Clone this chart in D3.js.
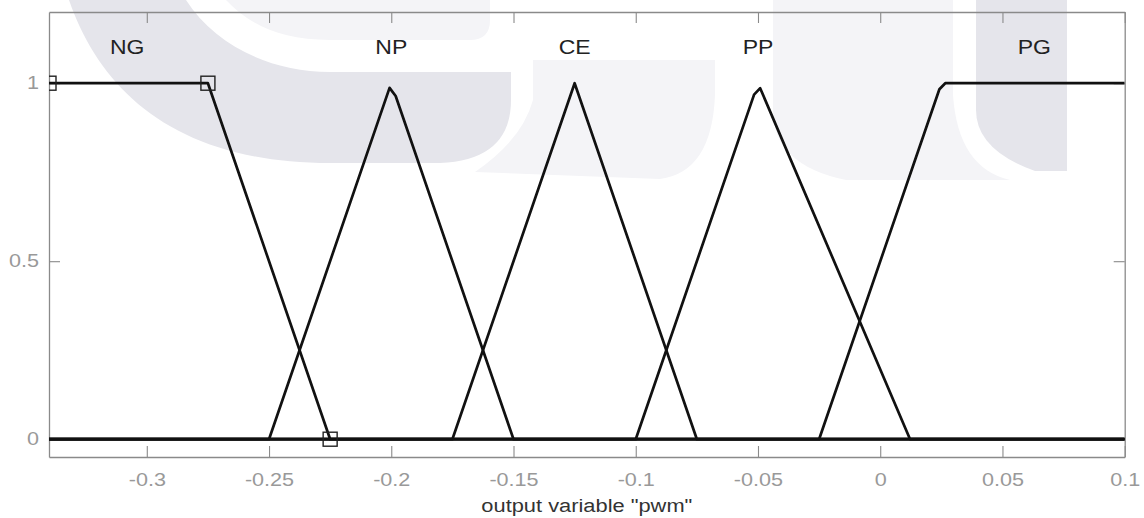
<!DOCTYPE html>
<html>
<head>
<meta charset="utf-8">
<script src="https://cdn.jsdelivr.net/npm/d3@7"></script>
<style>
  body { margin: 0; background: #fff; }
  svg { display: block; font-family: 'Liberation Sans', Arial, sans-serif; }
</style>
</head>
<body>
<div id="mf-graph"></div>
<script>
// membership function names and where their labels sit
const mfNames = ['NG', 'NP', 'CE', 'PP', 'PG']
const labelX = [-0.308, -0.2, -0.125, -0.05, 0.063]
const labelY = 1.083

// plotted vertices of each membership function (as sampled by the fuzzy toolbox)
const ngX = [-0.34, -0.275, -0.225, 0.1]
const ngY = [1, 1, 0, 0]
const npX = [-0.34, -0.25, -0.2007, -0.1982, -0.15, 0.1]
const npY = [0, 0, 0.987, 0.964, 0, 0]
const ceX = [-0.34, -0.175, -0.125, -0.075, 0.1]
const ceY = [0, 0, 1, 0, 0]
const ppX = [-0.34, -0.1, -0.0516, -0.0491, 0.0122, 0.1]
const ppY = [0, 0, 0.968, 0.986, 0, 0]
const pgX = [-0.34, -0.025, 0.0242, 0.0266, 0.1]
const pgY = [0, 0, 0.983, 1, 1]

// selected MF handles
const markerX = [-0.34, -0.275, -0.225]
const markerY = [1, 1, 0]

const xTicks = [-0.3, -0.25, -0.2, -0.15, -0.1, -0.05, 0, 0.05, 0.1]
const yTicks = [0, 0.5, 1]
const xTitle = 'output variable "pwm"'

// faint watermark of the scanned page
const watermarkDark = [
  'M69,0 C100,90 175,163 330,163 L440,163 Q511,160 511,100 L511,72 L330,72 C270,72 215,45 186,0 Z',
  'M976,0 L1067,0 L1067,171 L1035,171 Q976,150 976,110 Z'
]
const watermarkLight = [
  'M226,0 C250,25 280,40 330,40 L470,40 Q490,40 490,20 L490,0 Z',
  'M533,60 L715,60 L715,95 Q712,172 660,179 L475,172 Q522,140 533,100 Z',
  'M773,0 L953,0 L953,95 Q958,168 1010,180 L846,180 Q773,165 773,110 Z'
]

const width = 1144
const height = 518
const margin = { left: 49, right: 19.3, top: 12, bottom: 61 }
const textStretch = 'scale(1.15,1)'
const tickStretch = 'scale(1.2,1)'

const svg = d3.select('#mf-graph').append('svg')
  .attr('width', width)
  .attr('height', height)

/**
 * Draws the grey watermark shapes behind the plot.
 */
function drawWatermark () {
  const wm = svg.append('g').attr('class', 'watermark')
  wm.selectAll('.wm-light').data(watermarkLight).join('path')
    .attr('class', 'wm-light').attr('d', d => d).attr('fill', '#f4f4f7')
  wm.selectAll('.wm-dark').data(watermarkDark).join('path')
    .attr('class', 'wm-dark').attr('d', d => d).attr('fill', '#e5e5eb')
}

drawWatermark()

const x = d3.scaleLinear()
  .domain([-0.34, 0.1])
  .range([margin.left, width - margin.right])

const y = d3.scaleLinear()
  .domain([-0.05, 1.2])
  .range([height - margin.bottom, margin.top])

const boxColor = '#8a8a8a'
const tickColor = '#999'

// plain hyphen-minus, as in the original figure
const tickText = d => String(+d.toFixed(2))

/**
 * Draws the four axes as a box with inward ticks.
 */
function drawAxes () {
  const bottom = svg.append('g')
    .attr('transform', 'translate(0,' + y.range()[0] + ')')
    .call(d3.axisBottom(x).tickValues(xTicks).tickFormat(tickText)
      .tickSizeInner(-11).tickSizeOuter(0).tickPadding(16))
  const top = svg.append('g')
    .attr('transform', 'translate(0,' + y.range()[1] + ')')
    .call(d3.axisTop(x).tickValues(xTicks).tickFormat('').tickSizeInner(-11).tickSizeOuter(0))
  const left = svg.append('g')
    .attr('transform', 'translate(' + x.range()[0] + ',0)')
    .call(d3.axisLeft(y).tickValues(yTicks).tickFormat(tickText).tickSizeInner(-11).tickSizeOuter(0).tickPadding(10))
  const right = svg.append('g')
    .attr('transform', 'translate(' + x.range()[1] + ',0)')
    .call(d3.axisRight(y).tickValues(yTicks).tickFormat('').tickSizeInner(-11).tickSizeOuter(0))

  for (const ax of [bottom, top, left, right]) {
    ax.select('.domain').attr('stroke', boxColor).attr('stroke-width', 1.3)
    ax.selectAll('.tick line').attr('stroke', boxColor).attr('stroke-width', 1.1)
    ax.selectAll('.tick text')
      .attr('fill', tickColor)
      .style('font-size', '18px')
      .attr('transform', tickStretch)
  }
  left.selectAll('.tick text').attr('x', -10 / 1.2)

  svg.append('text')
    .attr('transform', 'translate(' + ((x.range()[0] + x.range()[1]) / 2) + ',512) ' + textStretch)
    .attr('text-anchor', 'middle')
    .attr('fill', '#333')
    .style('font-size', '19px')
    .text(xTitle)
}

drawAxes()

svg.append('clipPath').attr('id', 'plot-clip')
  .append('rect')
  .attr('x', x.range()[0]).attr('y', y.range()[1])
  .attr('width', x.range()[1] - x.range()[0])
  .attr('height', y.range()[0] - y.range()[1])

const plot = svg.append('g').attr('clip-path', 'url(#plot-clip)')

const mfSeries = [
  d3.zip(ngX, ngY), d3.zip(npX, npY), d3.zip(ceX, ceY), d3.zip(ppX, ppY), d3.zip(pgX, pgY)
]

const line = d3.line()
  .x(d => x(d[0]))
  .y(d => y(d[1]))

plot.selectAll('.mf')
  .data(mfSeries)
  .join('path')
  .attr('class', 'mf')
  .attr('d', line)
  .attr('fill', 'none')
  .attr('stroke', '#111')
  .attr('stroke-width', 2.7)
  .attr('stroke-linejoin', 'round')

plot.selectAll('.handle')
  .data(d3.zip(markerX, markerY))
  .join('rect')
  .attr('class', 'handle')
  .attr('x', d => x(d[0]) - 7)
  .attr('y', d => y(d[1]) - 7)
  .attr('width', 14)
  .attr('height', 14)
  .attr('fill', 'none')
  .attr('stroke', '#222')
  .attr('stroke-width', 1.4)

svg.selectAll('.mf-label')
  .data(mfNames)
  .join('text')
  .attr('class', 'mf-label')
  .attr('transform', (d, i) => 'translate(' + x(labelX[i]) + ',' + y(labelY) + ') ' + textStretch)
  .attr('text-anchor', 'middle')
  .attr('fill', '#222')
  .style('font-size', '20px')
  .text(d => d)
</script>
</body>
</html>
